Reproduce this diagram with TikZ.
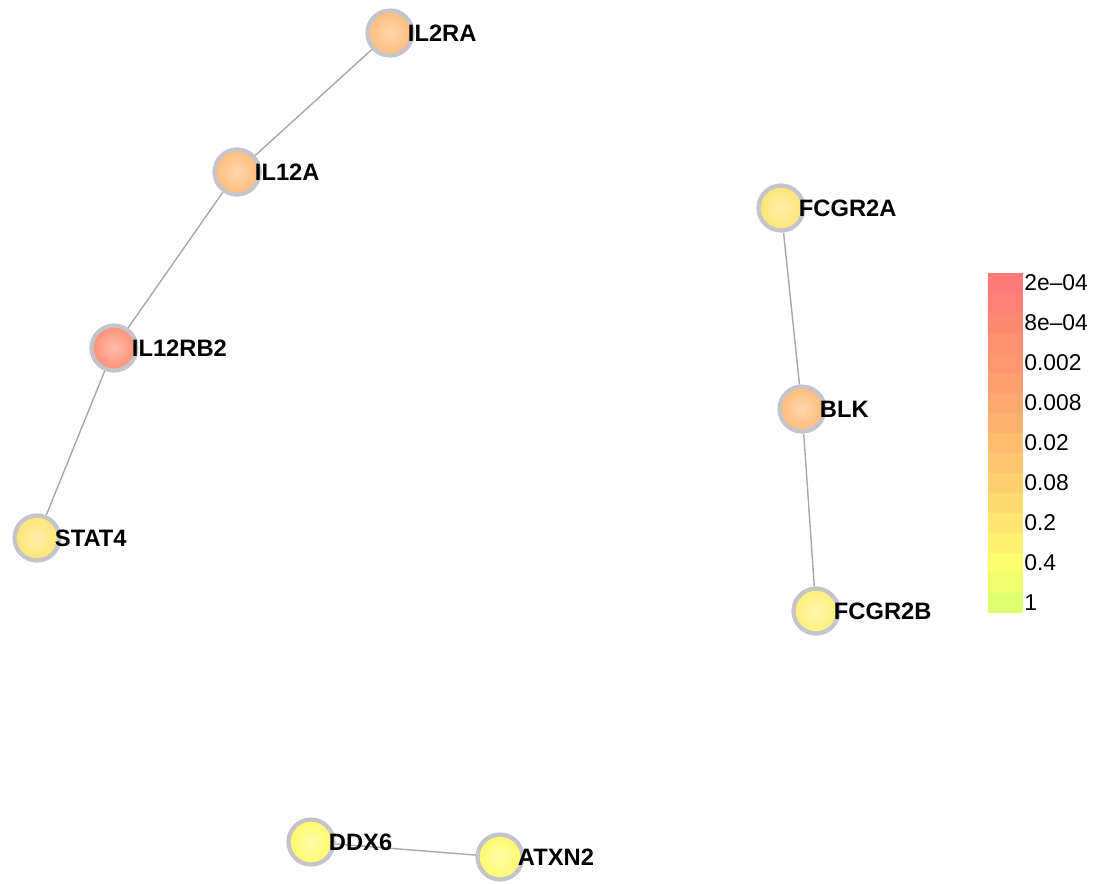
\documentclass[tikz,border=0pt]{standalone}
\usepackage{fontspec}
\setmainfont{Liberation Sans}
\usepackage{tikz}
\usetikzlibrary{shapes,backgrounds}
\definecolor{edgegray}{HTML}{A8A8A8}
\definecolor{rimgray}{HTML}{C4C4CA}
\definecolor{cOrange}{HTML}{FFBC78}
\definecolor{cSalmon}{HTML}{FF9074}
\definecolor{cLightOr}{HTML}{FFE474}
\definecolor{cPale}{HTML}{FFF078}
\definecolor{cYellow}{HTML}{FFFA6C}

\begin{document}
\begin{tikzpicture}[x=0.02cm,y=-0.02cm]
\tikzstyle{gene}=[circle,minimum size = 0.9cm, inner sep=0pt, line width=2.4pt, draw=rimgray, shading=radial]
\tikzstyle{lbl}=[label distance=-0.14cm, inner sep=0pt, font=\fontsize{13.5}{15}\selectfont\bfseries]
\tikzstyle{link}=[edgegray, line width=0.8pt]
\tikzstyle{keytext}=[anchor=west, inner sep=0pt, font=\fontsize{13}{15}\selectfont]
\useasboundingbox (0,0) rectangle (1098,883);
	\node[gene,inner color=cOrange!60!white,outer color=cOrange] (il2ra) at (390,33) [label={[lbl]right:{IL2RA}}]{};
	\node[gene,inner color=cOrange!60!white,outer color=cOrange] (il12a) at (237,172) [label={[lbl]right:{IL12A}}]{};
	\node[gene,inner color=cSalmon!60!white,outer color=cSalmon] (il12rb2) at (114,348) [label={[lbl]right:{IL12RB2}}]{};
	\node[gene,inner color=cLightOr!60!white,outer color=cLightOr] (stat4) at (37,538) [label={[lbl]right:{STAT4}}]{};
	\node[gene,inner color=cLightOr!60!white,outer color=cLightOr] (fcgr2a) at (781,208) [label={[lbl]right:{FCGR2A}}]{};
	\node[gene,inner color=cOrange!60!white,outer color=cOrange] (blk) at (802,409) [label={[lbl]right:{BLK}}]{};
	\node[gene,inner color=cPale!60!white,outer color=cPale] (fcgr2b) at (816,611) [label={[lbl]right:{FCGR2B}}]{};
	\node[gene,inner color=cYellow!60!white,outer color=cYellow] (ddx6) at (311,842) [label={[lbl]right:{DDX6}}]{};
	\node[gene,inner color=cYellow!60!white,outer color=cYellow] (atxn2) at (500,857) [label={[lbl]right:{ATXN2}}]{};

	% colour key
	\foreach \c [count=\i from 0] in {FF7A78,FF8074,FF8872,FF9070,FF9870,FFA070,FFA870,FFB270,FFBC70,FFC670,FFD070,FFDA70,FFE670,FFF270,FAFF6E,EEFF6E,DEFF70}{
		\definecolor{band}{HTML}{\c}
		\fill[band] (988,273+20*\i) rectangle (1023,293+20*\i);
	}
	\foreach \t [count=\i from 0] in {2e--04,8e--04,0.002,0.008,0.02,0.08,0.2,0.4,1}
		\node[keytext] (key\i) at (1024,283+40*\i) {\t};
	\begin{pgfonlayer}{background}
	\path
		(il2ra) edge [link] (il12a)
		(il12a) edge [link] (il12rb2)
		(il12rb2) edge [link] (stat4)
		(fcgr2a) edge [link] (blk)
		(blk) edge [link] (fcgr2b)
		(ddx6.center) edge [link] (atxn2.center);
	\end{pgfonlayer}
\end{tikzpicture}
\end{document}
